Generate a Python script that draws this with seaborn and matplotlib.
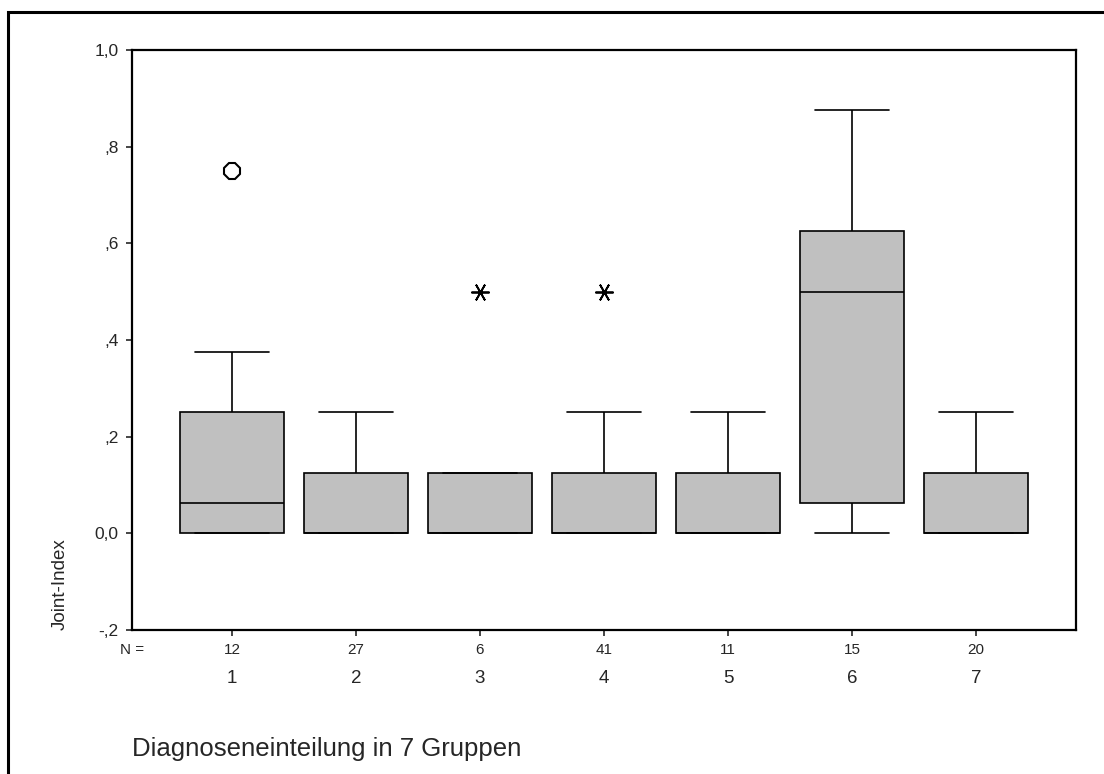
import pandas as pd
import seaborn as sns
import matplotlib.pyplot as plt
from matplotlib.patches import Rectangle

# Box summaries (SPSS style boxplot)
groups = ["1", "2", "3", "4", "5", "6", "7"]
n_cases = [12, 27, 6, 41, 11, 15, 20]
whisker_low = [0, 0, 0, 0, 0, 0, 0]
q1 = [0, 0, 0, 0, 0, 0.0625, 0]
median = [0.0625, 0, 0, 0, 0, 0.5, 0]
q3 = [0.25, 0.125, 0.125, 0.125, 0.125, 0.625, 0.125]
whisker_high = [0.375, 0.25, 0.125, 0.25, 0.25, 0.875, 0.25]

# Outliers (circle) and extremes (asterisk)
outlier_groups = ["1"]
outlier_values = [0.75]
extreme_groups = ["3", "4"]
extreme_values = [0.5, 0.5]

y_ticks = [-0.2, 0.0, 0.2, 0.4, 0.6, 0.8, 1.0]
y_labels = ["-,2", "0,0", ",2", ",4", ",6", ",8", "1,0"]

# Long table: five summary points per group -> exact box with whis=(0, 100)
rows = []
for i, g in enumerate(groups):
    for v in (whisker_low[i], q1[i], median[i], q3[i], whisker_high[i]):
        rows.append({"group": g, "value": v})
df = pd.DataFrame(rows)

sns.set_style("white")
plt.rcParams["font.family"] = ["Liberation Sans", "DejaVu Sans"]

fig = plt.figure(figsize=(11.04, 7.74), dpi=100)
ax = fig.add_axes([132 / 1104, 144 / 774, 944 / 1104, 580 / 774])

sns.boxplot(
    data=df,
    x="group",
    y="value",
    order=groups,
    whis=(0, 100),
    width=0.84,
    color="#c0c0c0",
    saturation=1,
    linecolor="black",
    linewidth=1.2,
    capwidths=0.6,
    ax=ax,
)

# Outliers and extreme values
ax.plot(
    [groups.index(g) for g in outlier_groups],
    outlier_values,
    linestyle="none",
    marker="8",
    markersize=12,
    markerfacecolor="white",
    markeredgecolor="black",
    markeredgewidth=1.5,
)
ax.plot(
    [groups.index(g) for g in extreme_groups],
    extreme_values,
    linestyle="none",
    marker=(6, 2, 90),
    markersize=13,
    markeredgecolor="black",
    markeredgewidth=1.3,
)

ax.set_xlim(-0.806, 6.806)
ax.set_ylim(-0.2, 1.0)
ax.set_yticks(y_ticks)
ax.set_yticklabels(y_labels)
ax.set_xticks(range(len(groups)))
ax.set_xticklabels(groups)

ax.tick_params(axis="y", direction="out", length=4.5, width=1.2,
               pad=5, labelsize=12.5, left=True)
ax.tick_params(axis="x", direction="out", length=4.5, width=1.2,
               pad=24.5, labelsize=13.5, bottom=True)

for spine in ax.spines.values():
    spine.set_visible(True)
    spine.set_color("black")
    spine.set_linewidth(1.6)

# N row under the axis
ax.annotate("N =", xy=(0, 0), xycoords="axes fraction", xytext=(0, -14.5),
            textcoords="offset points", ha="center", va="center", fontsize=11)
for i, n in enumerate(n_cases):
    ax.annotate(str(n), xy=(i, 0), xycoords=("data", "axes fraction"),
                xytext=(0, -14.5), textcoords="offset points",
                ha="center", va="center", fontsize=11)

ax.set_xlabel("")
ax.set_ylabel("Joint-Index", fontsize=13.5, loc="bottom")
ax.yaxis.set_label_coords(-0.067, 0)

fig.text(132 / 1104, 18 / 774, "Diagnoseneinteilung in 7 Gruppen",
         fontsize=18.5, ha="left", va="baseline")

# Outer chart frame (only top and left edges fall inside the picture)
fig.add_artist(Rectangle((8 / 1104, -0.1), 1.5, (762 / 774) + 0.1,
                         transform=fig.transFigure, fill=False,
                         edgecolor="black", linewidth=2.2))

fig.savefig("out.png", dpi=100)
